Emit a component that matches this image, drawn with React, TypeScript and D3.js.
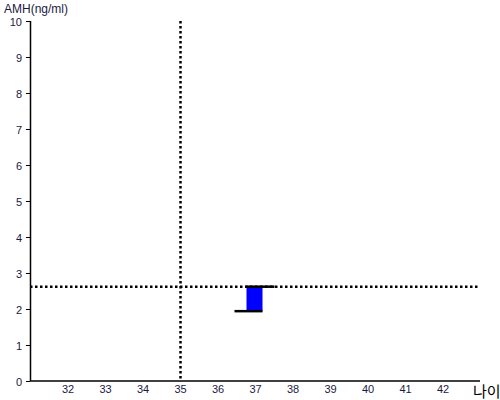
import React from "react";
import * as d3 from "d3";

const xTicks = [32, 33, 34, 35, 36, 37, 38, 39, 40, 41, 42];
const yTicks = [0, 1, 2, 3, 4, 5, 6, 7, 8, 9, 10];
const refAge = [35];
const refAmh = [2.62];
const markerAge = [37];
const markerLow = [1.94];
const markerHigh = [2.62];

export default function App() {
  const W = 500, H = 400;
  const x = d3.scaleLinear().domain([31, 43]).range([30.5, 480.5]);
  const y = d3.scaleLinear().domain([0, 10]).range([381, 21]);
  const font = "Arial, 'Liberation Sans', sans-serif";
  return (
    <svg width={W} height={H} style={{ position: "absolute", left: 0, top: 0, background: "#fff" }}>
      <rect width={W} height={H} fill="#fff" />
      {/* axes */}
      <line x1={30.5} x2={30.5} y1={y(10)} y2={y(0)} stroke="#000" strokeWidth={1.5} />
      <line x1={30} x2={480} y1={y(0)} y2={y(0)} stroke="#000" strokeWidth={1.5} />
      {yTicks.map((t) => (
        <g key={t}>
          <line x1={26} x2={30} y1={Math.round(y(t)) + 0.5} y2={Math.round(y(t)) + 0.5} stroke="#000" />
          <text x={22} y={y(t) + 4.5} textAnchor="end" fontFamily={font} fontSize={11} fill="#1a1a40">{t}</text>
        </g>
      ))}
      {xTicks.map((t) => (
        <text key={t} x={x(t)} y={393} textAnchor="middle" fontFamily={font} fontSize={11} fill="#1a1a40">{t}</text>
      ))}
      <text x={4} y={12.5} fontFamily={font} fontSize={12} fill="#1a1a40">AMH(ng/ml)</text>
      <text x={473} y={397} fontFamily="'Noto Sans CJK KR', sans-serif" fontSize={15} fill="#000">나이</text>
      {/* reference lines */}
      {refAge.map((a, i) => (
        <line key={"v" + i} x1={x(a)} x2={x(a)} y1={y(10)} y2={y(0)} stroke="#000" strokeWidth={2.5} strokeDasharray="2.5 2.5" />
      ))}
      {refAmh.map((v, i) => (
        <line key={"h" + i} x1={30} x2={480} y1={y(v)} y2={y(v)} stroke="#000" strokeWidth={2.5} strokeDasharray="2.5 2.5" />
      ))}
      {/* marker */}
      {markerAge.map((a, i) => {
        const cx = x(a);
        const yt = y(markerHigh[i]);
        const yb = y(markerLow[i]);
        return (
          <g key={"m" + i}>
            <rect x={cx - 9} y={yt} width={16} height={yb - yt} fill="#0000ff" />
            <line x1={cx - 10} x2={cx + 19} y1={yt} y2={yt} stroke="#000" strokeWidth={2.5} />
            <line x1={cx - 21} x2={cx + 7} y1={yb} y2={yb} stroke="#000" strokeWidth={2.5} />
          </g>
        );
      })}
    </svg>
  );
}
